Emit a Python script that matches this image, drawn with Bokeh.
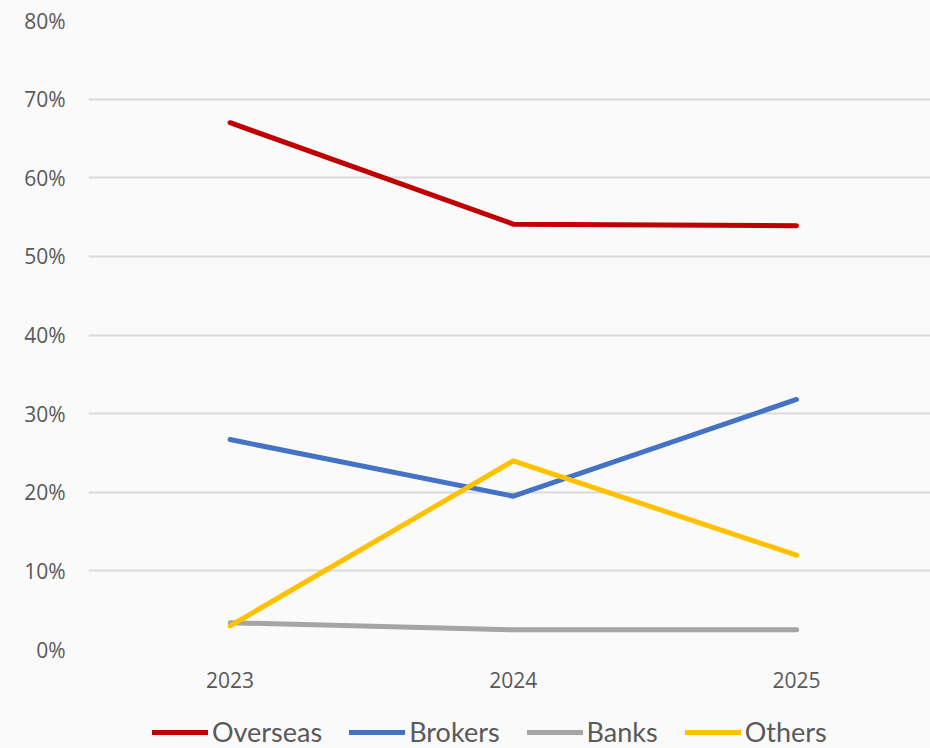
from bokeh.plotting import figure
from bokeh.layouts import column
from bokeh.models import Range1d, FixedTicker, PrintfTickFormatter, Legend, LegendItem
from bokeh.embed import file_html
from bokeh.resources import INLINE

years = ["2023", "2024", "2025"]
overseas = [67.0, 54.1, 53.9]
brokers = [26.7, 19.5, 31.8]
banks = [3.4, 2.5, 2.5]
others = [3.0, 24.0, 12.0]
series_names = ["Overseas", "Brokers", "Banks", "Others"]
colors = ["#C00000", "#4472C4", "#A5A5A5", "#FFC000"]
y_ticks = [0, 10, 20, 30, 40, 50, 60, 70, 80]

xs = list(range(len(years)))
bg = "#FAFAFA"
txt = "#595959"
lw = 5

p = figure(width=930, height=700, output_backend="svg", toolbar_location=None,
           x_range=Range1d(-0.5, 2.473), y_range=Range1d(0, 80),
           min_border_left=88, min_border_right=0, min_border_top=20, min_border_bottom=51)
p.background_fill_color = bg
p.border_fill_color = bg
p.outline_line_color = None

p.xgrid.visible = False
p.ygrid.grid_line_color = "#D9D9D9"
p.ygrid.grid_line_width = 2
p.ygrid.ticker = FixedTicker(ticks=y_ticks)

p.yaxis.ticker = FixedTicker(ticks=y_ticks)
p.yaxis.formatter = PrintfTickFormatter(format="%d%%")
p.yaxis.axis_line_color = None
p.yaxis.major_tick_line_color = None
p.yaxis.minor_tick_line_color = None
p.yaxis.major_label_text_font = "Open Sans"
p.yaxis.major_label_text_font_size = "21px"
p.yaxis.major_label_text_color = txt
p.yaxis.major_label_standoff = 17

p.xaxis.ticker = FixedTicker(ticks=xs)
p.xaxis.major_label_overrides = {i: y for i, y in enumerate(years)}
p.xaxis.axis_line_color = None
p.xaxis.major_tick_line_color = None
p.xaxis.minor_tick_line_color = None
p.xaxis.major_label_text_font = "Open Sans"
p.xaxis.major_label_text_font_size = "21px"
p.xaxis.major_label_text_color = txt
p.xaxis.major_label_standoff = 16

series = [overseas, brokers, banks, others]
for vals, c in zip(series, colors):
    p.line(xs, vals, line_color=c, line_width=lw, line_cap="round", line_join="round")

# legend strip (same frame alignment as the chart)
lg = figure(width=930, height=48, output_backend="svg", toolbar_location=None,
            x_range=Range1d(0, 1), y_range=Range1d(0, 1),
            min_border_left=88, min_border_right=0, min_border_top=0, min_border_bottom=0)
lg.axis.visible = False
lg.grid.visible = False
lg.background_fill_color = bg
lg.border_fill_color = bg
lg.outline_line_color = None

items = []
for name, c in zip(series_names, colors):
    # off-range stub so the legend swatch has a colour to draw with
    r = lg.line(x=[-10, -9], y=[-10, -10], line_color=c, line_width=lw, line_cap="round")
    items.append(LegendItem(label=name, renderers=[r]))

legend = Legend(items=items, orientation="horizontal", location=(64, 0),
                glyph_width=56, glyph_height=20, label_standoff=4, spacing=27,
                label_text_font="Lato", label_text_font_size="27px", label_text_color=txt,
                background_fill_alpha=0, border_line_color=None,
                padding=0, margin=0)
lg.add_layout(legend, "center")

layout = column(p, lg, spacing=0)
layout.styles = {"background-color": bg}
open("out.html", "w").write(file_html(layout, INLINE))
